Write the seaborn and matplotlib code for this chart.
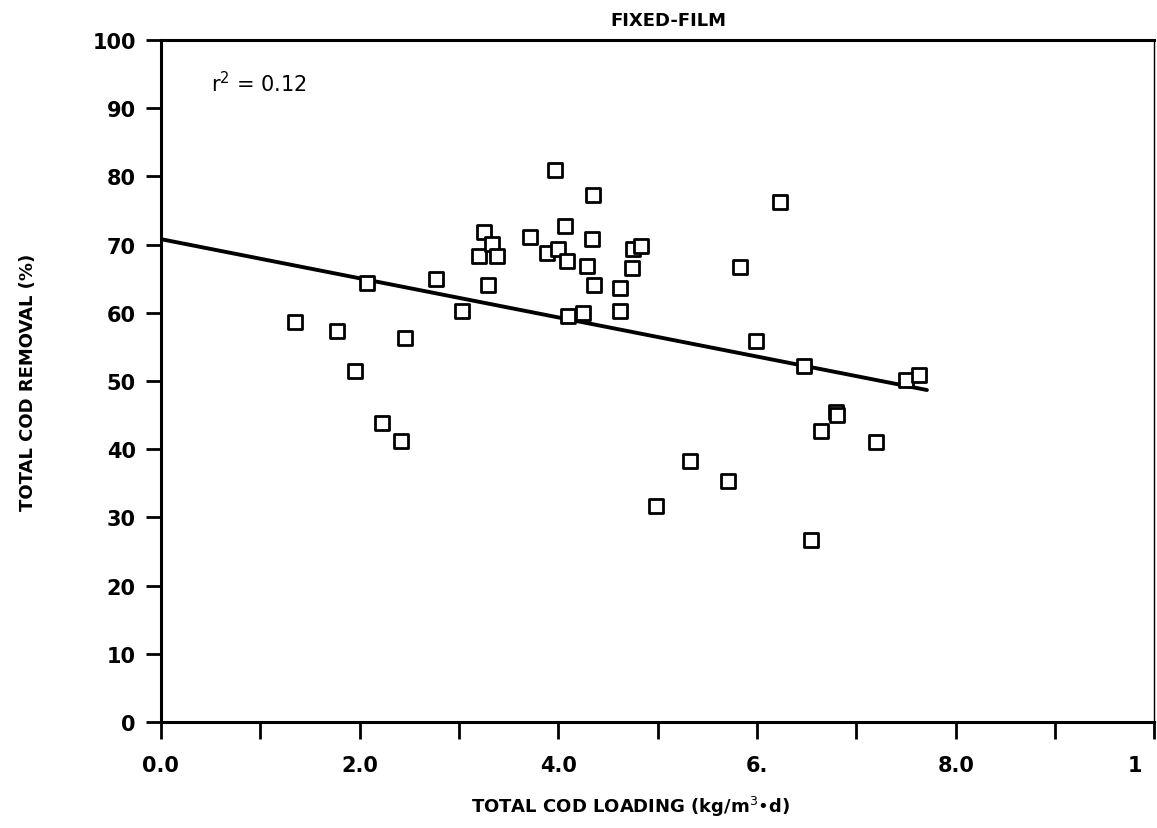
import matplotlib
matplotlib.use('Agg')
import numpy as np
import pandas as pd
import matplotlib.pyplot as plt
import seaborn as sns

# 读图得到的数据点 (loading, removal)
cod_loading = [1.35, 1.77, 1.95, 2.08, 2.23, 2.42, 2.46, 2.77, 3.03, 3.20,
               3.25, 3.29, 3.33, 3.38, 3.72, 3.89, 3.97, 4.00, 4.07, 4.09,
               4.10, 4.25, 4.29, 4.34, 4.35, 4.36, 4.62, 4.62, 4.74, 4.75,
               4.83, 4.98, 5.33, 5.71, 5.83, 5.99, 6.23, 6.47, 6.54, 6.64,
               6.80, 6.81, 7.20, 7.50, 7.63]
cod_removal = [58.7, 57.3, 51.5, 64.3, 43.8, 41.2, 56.3, 64.9, 60.2, 68.4,
               71.8, 64.1, 70.1, 68.3, 71.1, 68.8, 81.0, 69.3, 72.7, 67.6,
               59.6, 59.9, 66.9, 70.8, 77.2, 64.1, 63.7, 60.3, 66.5, 69.3,
               69.8, 31.7, 38.3, 35.4, 66.7, 55.9, 76.3, 52.2, 26.7, 42.6,
               45.5, 45.0, 41.0, 50.2, 50.9]

# 回归线 (图中读取)
fit_intercept = 70.8
fit_slope = -2.87
fit_x = [0.0, 7.71]
r2_text = 'r$^2$ = 0.12'

x_ticks = [0, 1, 2, 3, 4, 5, 6, 7, 8, 9, 10]
x_labels = ['0.0', '', '2.0', '', '4.0', '', '6.', '', '8.0', '', '']
last_x_label = '1'   # 原图右边只剩 "1"
y_ticks = [0, 10, 20, 30, 40, 50, 60, 70, 80, 90, 100]

df = pd.DataFrame({'loading': cod_loading, 'removal': cod_removal})
line_df = pd.DataFrame({'x': fit_x,
                        'y': [fit_intercept + fit_slope * v for v in fit_x]})

sns.set_theme(style='ticks')
plt.rcParams['font.family'] = ['DejaVu Sans']
plt.rcParams['text.color'] = 'black'
plt.rcParams['axes.labelcolor'] = 'black'

fig = plt.figure(figsize=(11.57, 8.29), dpi=100)
ax = fig.add_axes([0.139, 0.128, 0.8588, 0.8225])

sns.lineplot(data=line_df, x='x', y='y', color='black', linewidth=2.8, ax=ax)
sns.scatterplot(data=df, x='loading', y='removal', marker='s', s=95,
                facecolor='white', edgecolor='black', linewidth=2.0, ax=ax,
                zorder=3)

ax.set_xlim(0, 10)
ax.set_ylim(0, 100)
ax.set_xticks(x_ticks)
ax.set_xticklabels(x_labels)
ax.set_yticks(y_ticks)
for lbl in ax.get_xticklabels() + ax.get_yticklabels():
    lbl.set_fontweight('bold')
    lbl.set_fontsize(15)
    lbl.set_color('black')

# 最右边的刻度标签单独放，往左挪一点
ax.annotate(last_x_label, xy=(x_ticks[-1], 0), xycoords=('data', 'axes fraction'),
            xytext=(-14, -24), textcoords='offset points', ha='center', va='top',
            fontsize=15, fontweight='bold', annotation_clip=False)

ax.tick_params(axis='x', direction='out', length=12, width=2, pad=12,
               colors='black')
ax.tick_params(axis='y', direction='out', length=11, width=2, pad=7,
               colors='black')

for side in ['left', 'bottom', 'top']:
    ax.spines[side].set_linewidth(2.2)
    ax.spines[side].set_color('black')
ax.spines['right'].set_linewidth(1.0)
ax.spines['right'].set_color('black')

ax.set_xlabel('TOTAL COD LOADING (kg/m$^3$•d)', fontsize=13,
              fontweight='bold', labelpad=14)
ax.xaxis.set_label_coords(0.473, -0.105)
ax.set_ylabel('TOTAL COD REMOVAL (%)', fontsize=13, fontweight='bold')
ax.yaxis.set_label_coords(-0.125, 0.5)

ax.text(0.5, 92.5, r2_text, fontsize=15, color='black')
fig.text(0.578, 0.985, 'FIXED-FILM', ha='center', va='top', fontsize=13,
         fontweight='bold')

fig.savefig('out.png', dpi=100, facecolor='white')
